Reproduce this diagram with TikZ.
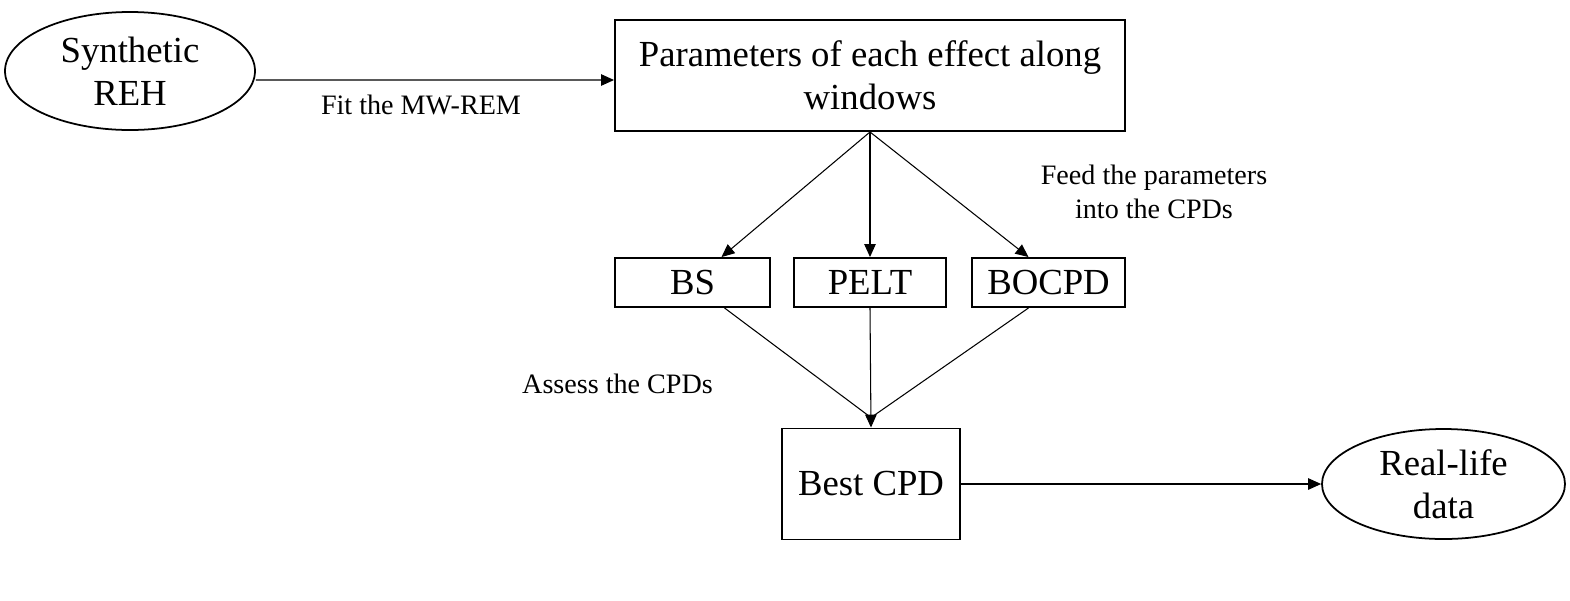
\documentclass[tikz,border=0pt]{standalone}
\usepackage{fontspec}
\setmainfont{Liberation Serif}
\usepackage{tikz}
\usetikzlibrary{shapes.geometric,arrows.meta}
\tikzset{
    procbox/.style={draw, line width=1.1pt, align=center, inner sep=0pt,
        font=\fontsize{20.9}{24.6}\selectfont},
    ovalnode/.style={draw, ellipse, line width=1pt, align=center, inner sep=0pt,
        font=\fontsize{20.9}{24.6}\selectfont},
    steplabel/.style={align=center, inner sep=0pt,
        font=\fontsize{16}{19.4}\selectfont},
    flowline/.style={line width=0.6pt},
    flowarrow/.style={flowline, -{Triangle[length=2.6mm,width=2.3mm]}},
}

\begin{document}
\begin{tikzpicture}
\useasboundingbox (0,0) rectangle (31.4,-12);
\node[ovalnode, minimum width=5cm, minimum height=2.36cm] (syn) at (2.6,-1.42) {Synthetic\\REH};
\node[procbox, minimum width=10.2cm, minimum height=2.22cm] (param) at (17.4,-1.51) {Parameters of each effect along\\windows};
\node[procbox, minimum width=3.1cm, minimum height=0.98cm] (bs) at (13.85,-5.65) {BS};
\node[procbox, minimum width=3.04cm, minimum height=0.98cm] (pelt) at (17.4,-5.65) {PELT};
\node[procbox, minimum width=3.06cm, minimum height=0.98cm] (bocpd) at (20.97,-5.65) {BOCPD};
\node[procbox, minimum width=3.56cm, minimum height=2.22cm] (best) at (17.42,-9.68) {Best CPD};
\node[ovalnode, minimum width=4.86cm, minimum height=2.2cm] (real) at (28.87,-9.68) {Real-life\\data};
\node[steplabel] (fitlbl) at (8.42,-2.1) {Fit the MW-REM};
\node[steplabel] (feedlbl) at (23.08,-3.84) {Feed the parameters\\into the CPDs};
\node[steplabel] (asslbl) at (12.35,-7.68) {Assess the CPDs};
\draw[flowarrow] ([yshift=-1.8mm]syn.east) -- ([yshift=-0.9mm]param.west);
\draw[flowarrow] (param.south) -- ([xshift=0.58cm]bs.north);
\draw[flowarrow] (param.south) -- (pelt.north);
\draw[flowarrow] (param.south) -- ([xshift=-0.4cm]bocpd.north);
\draw[flowline] ([xshift=0.64cm]bs.south) -- ([yshift=2mm]best.north);
\draw[flowline] ([xshift=-0.4cm]bocpd.south) -- ([yshift=2mm]best.north);
\draw[flowarrow] (pelt.south) -- (best.north);
\draw[flowarrow] (best.east) -- (real.west);
\end{tikzpicture}
\end{document}
